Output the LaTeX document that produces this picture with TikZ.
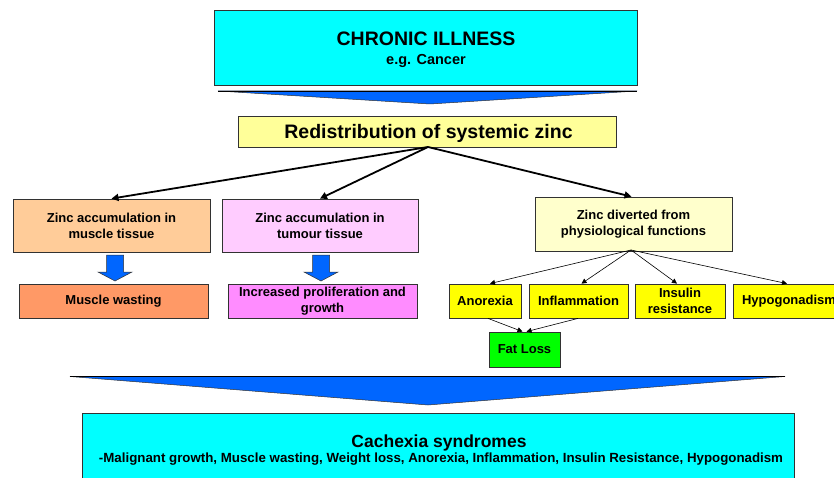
\documentclass[tikz,border=0pt]{standalone}
\usepackage{fontspec}
\setmainfont{Liberation Sans}
\usetikzlibrary{arrows.meta}
\definecolor{cyanbox}{RGB}{0,255,255}
\definecolor{redist}{RGB}{255,255,153}
\definecolor{musclec}{RGB}{255,204,153}
\definecolor{tumourc}{RGB}{255,204,255}
\definecolor{divertc}{RGB}{255,255,204}
\definecolor{wastec}{RGB}{255,153,102}
\definecolor{prolifc}{RGB}{255,140,255}
\definecolor{yellowc}{RGB}{255,255,0}
\definecolor{greenc}{RGB}{0,255,0}
\definecolor{bluec}{RGB}{0,102,255}
\definecolor{edgec}{RGB}{50,50,50}
\tikzset{
  box/.style={draw=edgec, line width=0.8pt, rectangle, align=center, inner sep=0pt,
    font=\bfseries\fontsize{13}{16}\selectfont},
  blockfill/.style={fill=bluec, draw=edgec, line width=0.5pt, line join=miter},
  thick arrow/.style={line width=1.8pt, -{Triangle[length=7pt,width=7pt]}},
  thin arrow/.style={line width=0.6pt, -{Triangle[length=5pt,width=5pt]}},
  blockdown/.pic={\filldraw[blockfill] (-8.5,0) -- (8.5,0) -- (8.5,17) -- (17,17) -- (0,26) -- (-17,17) -- (-8.5,17) -- cycle;}
}
\begin{document}
\begin{tikzpicture}[x=1pt,y=-1pt]
\useasboundingbox (0,0) rectangle (834,478);
\fill[white] (0,0) rectangle (834,478);
% top box
\node[box, fill=cyanbox, minimum width=423, minimum height=75] (top) at (425.5,47.5) {};
\node[anchor=base, font=\bfseries\fontsize{19.5}{22}\selectfont] (toptitle) at (426,46) {CHRONIC ILLNESS};
\node[anchor=base, font=\bfseries\fontsize{14.5}{16}\selectfont] (topsub) at (426,65) {e.g. Cancer};
% top chevron
\filldraw[blockfill] (218,91) -- (637,91) -- (430,104) -- cycle;
\draw[line width=0.9pt] (218,91) -- (637,91);
% redistribution
\node[box, fill=redist, minimum width=378, minimum height=31] (redist) at (427,131.5) {};
\node[anchor=base, font=\bfseries\fontsize{19.5}{22}\selectfont] (redisttext) at (428.5,139) {Redistribution of systemic zinc};
% level boxes
\node[box, fill=musclec, minimum width=197, minimum height=53] (muscle) at (111.5,225.5) {Zinc accumulation in\\muscle tissue};
\node[box, fill=tumourc, minimum width=196, minimum height=53] (tumour) at (320,225.5) {Zinc accumulation in\\tumour tissue};
\node[box, fill=divertc, minimum width=197, minimum height=54] (divert) at (633.5,224) {Zinc diverted from\\physiological functions};
\coordinate (rsrc) at (428,147);
\draw[thick arrow] (rsrc) -- (muscle.north);
\draw[thick arrow] (rsrc) -- (tumour.north);
\draw[thick arrow] (rsrc) -- ([xshift=-2pt]divert.north);
% block arrows
\pic at (115,255) {blockdown};
\pic at (321,255) {blockdown};
% results
\node[box, fill=wastec, minimum width=189, minimum height=34] (waste) at (113.5,301) {Muscle wasting};
\node[box, fill=prolifc, minimum width=189, minimum height=34] (prolif) at (322.5,301) {Increased proliferation and\\growth};
\node[box, fill=yellowc, minimum width=72, minimum height=34] (anor) at (485,301) {Anorexia};
\node[box, fill=yellowc, minimum width=99, minimum height=34] (infl) at (578.5,301) {Inflammation};
\node[box, fill=yellowc, minimum width=90, minimum height=34] (insul) at (680,301) {Insulin\\resistance};
\node[box, fill=yellowc, minimum width=112, minimum height=34] (hypo) at (789,301) {Hypogonadism};
\node[box, fill=greenc, minimum width=71, minimum height=35] (fat) at (524.5,349.5) {Fat Loss};
\coordinate (dsrc) at (631,250);
\draw[thin arrow] (dsrc) -- ([xshift=5pt]anor.north);
\draw[thin arrow] (dsrc) -- ([xshift=3pt]infl.north);
\draw[thin arrow] (dsrc) -- ([xshift=-3pt]insul.north);
\draw[thin arrow] (dsrc) -- ([xshift=-2pt]hypo.north);
\draw[thin arrow] ([xshift=3pt]anor.south) -- ([xshift=-2pt]fat.north);
\draw[thin arrow] ([xshift=-0.5pt]infl.south) -- ([xshift=2pt]fat.north);
% bottom chevron
\filldraw[blockfill] (70,376.5) -- (785,376.5) -- (428,405) -- cycle;
\draw[line width=0.9pt] (70,376.5) -- (785,376.5);
% bottom box
\node[box, fill=cyanbox, minimum width=712, minimum height=80] (bottom) at (438,453) {};
\node[anchor=base, font=\bfseries\fontsize{17.5}{20}\selectfont] (btitle) at (439,447) {Cachexia syndromes};
\node[anchor=base, font=\bfseries\fontsize{13.3}{15}\selectfont] (bsub) at (441,462) {-Malignant growth, Muscle wasting, Weight loss, Anorexia, Inflammation, Insulin Resistance, Hypogonadism};
\end{tikzpicture}
\end{document}
